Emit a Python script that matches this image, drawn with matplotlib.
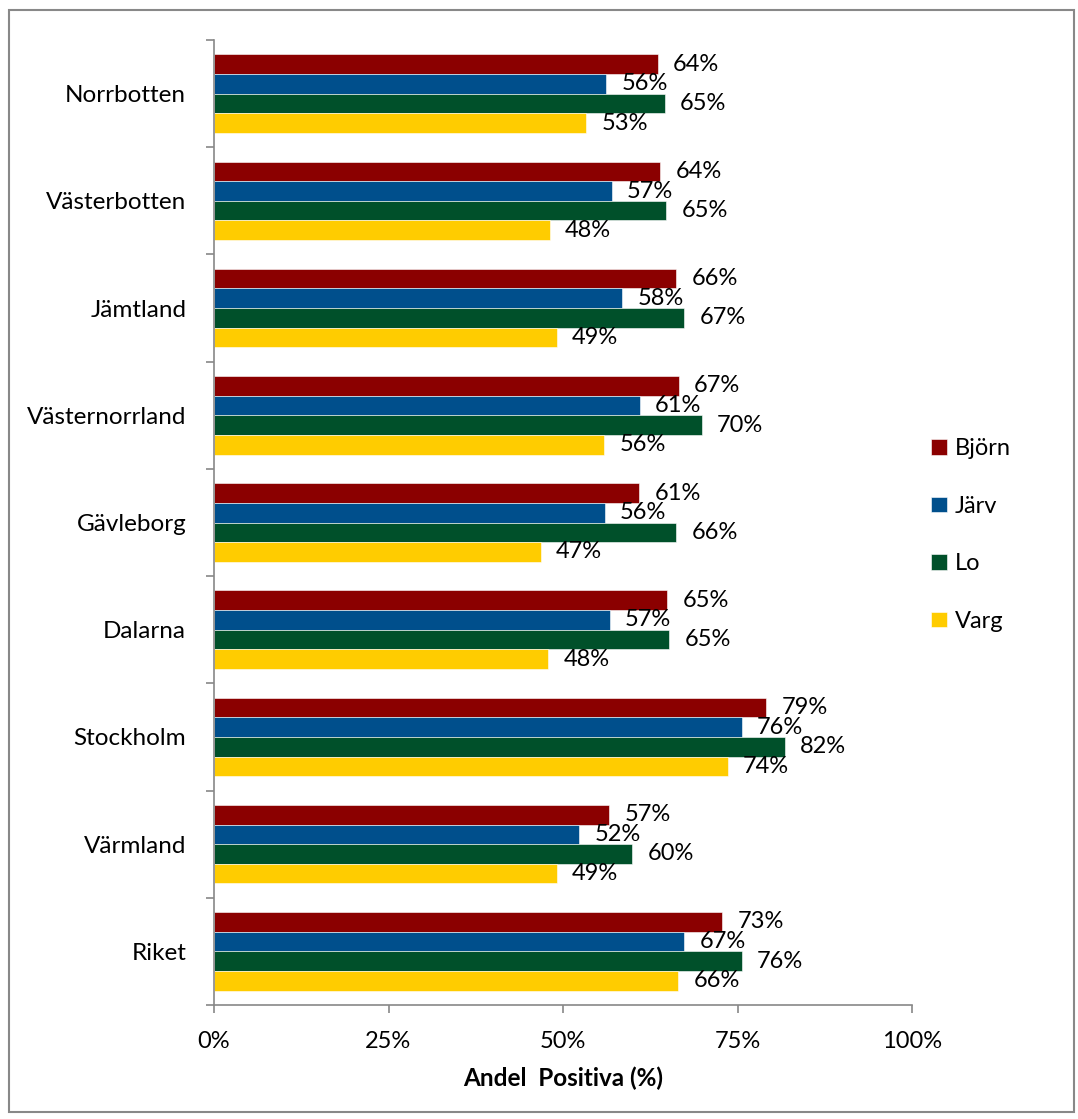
import matplotlib
matplotlib.use("Agg")
import matplotlib.pyplot as plt
from matplotlib.patches import Rectangle
from matplotlib.ticker import FixedLocator
import numpy as np

plt.rcParams['font.family'] = ['Lato', 'DejaVu Sans']

categories = ["Norrbotten", "Västerbotten", "Jämtland", "Västernorrland",
              "Gävleborg", "Dalarna", "Stockholm", "Värmland", "Riket"]
series = ["Björn", "Järv", "Lo", "Varg"]
bjorn = [63.6, 63.9, 66.2, 66.6, 60.9, 64.9, 79.1, 56.6, 72.8]
jarv = [56.2, 57.0, 58.5, 61.0, 56.0, 56.7, 75.6, 52.3, 67.4]
lo = [64.6, 64.8, 67.4, 69.9, 66.2, 65.2, 81.8, 59.9, 75.6]
varg = [53.3, 48.1, 49.1, 55.9, 46.8, 47.9, 73.6, 49.1, 66.5]
x_ticks = [0, 25, 50, 75, 100]
x_tick_labels = ["0%", "25%", "50%", "75%", "100%"]
x_label = "Andel  Positiva (%)"

colors = ["#8B0000", "#004F8C", "#00502A", "#FFCC00"]
values = [bjorn, jarv, lo, varg]

W, H = 1078, 1119
fig = plt.figure(figsize=(W / 100, H / 100), dpi=100)
ax = fig.add_axes([214 / W, 1 - 1005 / H, (912 - 214) / W, (1005 - 40) / H])

FS = 17
n = len(categories)
y = np.arange(n)
bh = 0.183
offsets = (np.arange(4) - 1.5) * bh
handles = []
for i, (name, vals, c) in enumerate(zip(series, values, colors)):
    bars = ax.barh(y + offsets[i], vals, height=bh, color=c, label=name,
                   edgecolor='white', linewidth=0.4)
    handles.append(bars)
    for yy, v in zip(y + offsets[i], vals):
        ax.annotate(f"{v:.0f}%", xy=(v, yy), xytext=(11, 0),
                    textcoords='offset points', va='center', ha='left',
                    fontsize=FS, color='black')

ax.set_ylim(n - 0.5, -0.5)
ax.set_xlim(0, 100)
ax.set_yticks(y)
ax.set_yticklabels(categories, fontsize=17.5)
ax.yaxis.set_minor_locator(FixedLocator(np.arange(-0.5, n, 1.0)))
ax.tick_params(axis='y', which='major', length=0, pad=20)
ax.tick_params(axis='y', which='minor', length=6, width=1.2, color='#888888', direction='out')
ax.set_xticks(x_ticks)
ax.set_xticklabels(x_tick_labels, fontsize=FS)
ax.tick_params(axis='x', length=6, width=1.2, color='#888888', direction='out', pad=13)
ax.set_xlabel(x_label, fontsize=17.5, fontweight='bold', labelpad=10)

for s in ['top', 'right']:
    ax.spines[s].set_visible(False)
for s in ['left', 'bottom']:
    ax.spines[s].set_color('#888888')
    ax.spines[s].set_linewidth(1.2)

fig.legend(handles=handles, labels=series, loc='center left',
           bbox_to_anchor=(910 / W, 1 - 535 / H), frameon=False,
           fontsize=FS, handlelength=0.65, handleheight=0.65,
           handletextpad=0.35, labelspacing=1.55)

fig.patches.append(Rectangle((9 / W, 1 - 1112 / H), (1074 - 9) / W, (1112 - 10) / H,
                             transform=fig.transFigure, fill=False,
                             edgecolor='#888888', linewidth=1.5))

fig.savefig("out.png", dpi=100)
